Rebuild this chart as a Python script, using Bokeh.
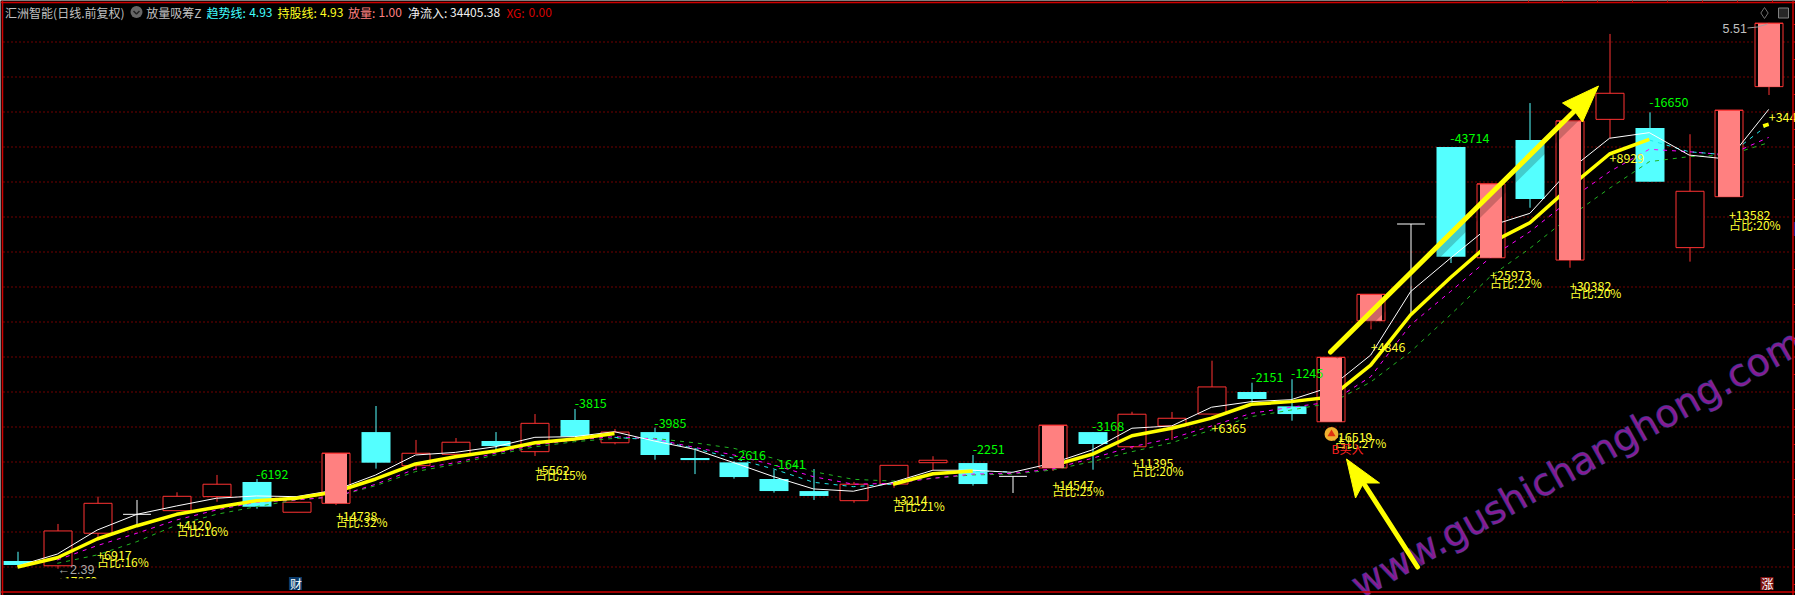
from bokeh.plotting import figure
from bokeh.embed import file_html
from bokeh.resources import INLINE
from bokeh.core.properties import value
from bokeh.models import Range1d, Span

# ---- candle data (price units)
OPEN  = [2.434,2.407,2.593,2.701,2.722,2.802,2.886,2.713,2.764,3.171,2.979,3.044,3.120,3.059,3.240,3.110,3.171,3.023,2.998,2.903,2.834,2.779,2.874,2.996,2.994,2.918,2.966,3.171,3.087,3.206,3.274,3.400,3.318,3.230,3.807,4.360,4.800,4.167,4.840,4.154,4.958,4.909,4.225,4.516,5.145]
CLOSE = [2.411,2.606,2.764,2.701,2.804,2.873,2.745,2.770,3.050,2.996,3.050,3.113,3.091,3.221,3.145,3.171,3.040,3.011,2.914,2.834,2.806,2.873,2.981,3.010,2.874,2.918,3.210,3.103,3.273,3.250,3.429,3.360,3.274,3.598,3.958,4.360,4.173,4.589,4.503,4.949,5.107,4.602,4.547,5.010,5.507]
HIGH  = [2.487,2.646,2.802,2.783,2.827,2.926,2.903,2.770,3.050,3.320,3.126,3.137,3.171,3.274,3.303,3.189,3.196,3.069,3.006,2.954,2.960,2.886,2.981,3.033,3.040,2.918,3.210,3.171,3.287,3.286,3.579,3.453,3.473,3.598,3.958,4.360,4.800,4.589,5.051,4.949,5.446,4.998,4.873,5.010,5.510]
LOW   = [2.411,2.390,2.560,2.646,2.722,2.773,2.733,2.713,2.754,2.962,2.954,3.044,3.059,3.034,3.145,3.101,3.013,2.931,2.905,2.825,2.783,2.767,2.853,2.954,2.865,2.823,2.949,2.956,3.074,3.126,3.274,3.337,3.236,3.230,3.758,3.840,4.137,4.167,4.453,4.110,4.851,4.602,4.145,4.516,5.097]
EMPHASIS = [8,26,33,34,37,39,43,44]   # pink filled up-days

nan = float("nan")
LINE_WHITE = [2.406,2.474,2.611,2.701,2.749,2.793,2.806,2.802,2.840,2.926,3.040,3.055,3.087,3.141,3.145,3.173,3.120,3.073,2.996,2.916,2.846,2.833,2.884,2.953,2.953,2.941,2.993,3.069,3.193,3.206,3.313,3.345,3.356,3.429,3.611,3.973,4.164,4.349,4.421,4.669,4.850,4.882,4.754,4.730,5.015]
LINE_YELLOW = [2.400,2.453,2.560,2.636,2.701,2.741,2.779,2.793,2.830,2.903,2.989,3.030,3.063,3.110,3.131,3.163,nan,nan,nan,nan,nan,nan,2.873,2.933,2.949,nan,2.979,3.044,3.150,3.193,3.251,3.330,3.345,3.371,3.554,3.840,4.053,4.251,4.367,4.571,4.760,4.844,nan,nan,nan]
LINE_CYAN = [nan]*15 + [3.141,3.126,3.078,3.021,2.960,2.884,2.859,2.874,2.933,2.949,2.943,nan] + [nan]*14 + [4.840,4.773,4.754,4.930]
LINE_MAGENTA = [nan,2.440,2.522,2.593,2.669,2.726,2.770,2.783,2.802,2.873,2.960,2.996,3.050,3.097,3.126,3.145,3.131,3.084,3.040,2.983,2.916,2.873,2.878,2.907,2.931,2.935,2.960,3.021,3.087,3.135,3.206,3.278,3.313,3.343,3.487,3.783,3.973,4.167,4.316,4.497,4.659,4.787,4.773,4.754,4.855]
LINE_GREEN = [nan,2.421,2.469,2.545,2.640,2.701,2.745,2.783,2.802,2.865,2.945,2.987,3.040,3.087,3.116,3.135,3.135,3.110,3.078,3.021,2.945,2.901,2.891,2.907,2.926,2.931,2.954,3.002,3.059,3.110,3.183,3.259,3.297,3.337,3.457,3.630,3.840,4.059,4.221,4.402,4.564,4.716,4.745,4.754,4.825]

# ---- value labels: candle index, price, text
GREEN_LABEL_I = [6,14,16,18,19,24,27,31,32,36,41]
GREEN_LABEL_Y = [2.933,3.337,3.225,3.040,2.987,3.074,3.207,3.487,3.509,4.850,5.055]
GREEN_LABEL_T = ["-6192","-3815","-3985","-2616","-1641","-2251","-3168","-2151","-1245","-43714","-16650"]
FLOW_LABEL_I = [2,4,8,13,22,26,28,30,33,34,37,39,40,43,44]
FLOW_LABEL_Y = [2.469,2.640,2.693,2.954,2.783,2.869,2.993,3.193,3.143,3.659,4.069,4.007,4.737,4.411,4.973]
FLOW_LABEL_T = ["+6917","+4120","+14738","+5562","+3214","+14547","+11395","+6365","+16519","+4846","+25973","+30382","+8929","+13582","+34405"]
SHARE_LABEL_I = [2,4,8,13,22,26,28,33.09,37,39,43]
SHARE_LABEL_Y = [2.434,2.611,2.659,2.926,2.754,2.840,2.954,3.109,4.023,3.966,4.360]
SHARE_LABEL_T = ["占比:16%","占比:16%","占比:32%","占比:15%","占比:21%","占比:25%","占比:20%","占比:27%","占比:22%","占比:20%","占比:20%"]
GRID_PRICES = [2.4,2.6,2.8,3.0,3.2,3.4,3.6,3.8,4.0,4.2,4.4,4.6,4.8,5.0,5.2,5.4]
MINOR_PRICES = [2.3,2.5,2.7,2.9,3.1,3.3,3.5,3.7,3.9,4.1,4.3,4.5,4.7,4.9,5.1,5.3,5.5]

HEADER = [("汇洲智能(日线.前复权)",4.6,"#c0c0c0"),("放量吸筹Z",145.8,"#c0c0c0"),("趋势线:",205.9,"#40ffff"),("4.93",248.7,"#40ffff"),
          ("持股线:",277,"#ffff20"),("4.93",319.5,"#ffff20"),("放量:",347.5,"#ff8080"),("1.00",378,"#ff8080"),
          ("净流入:",407.5,"#f0f0f0"),("34405.38",449.6,"#f0f0f0"),("XG:",505.9,"#d80000"),("0.00",528,"#d80000")]

# pixel <-> data helpers for page furniture (legend row, arrows, badges)
def sx(px): return (px-17)/39.8
def sy(py): return (987-py)/175
def snap(i): return sx(round(17+39.8*i)+0.5)   # candle slot centred on a device pixel

CJK = value("Noto Sans CJK SC")
p = figure(width=1795, height=595, output_backend="svg", toolbar_location=None,
           x_range=Range1d(sx(0), sx(1795)), y_range=Range1d(sy(595.5), sy(0.5)),
           background_fill_color="black", border_fill_color="black", min_border=0,
           outline_line_color=None)
p.xaxis.visible = False
p.yaxis.visible = False
p.xgrid.visible = False
p.ygrid.visible = False

GRID_RED = "#e00000"
p.segment([sx(3)]*len(GRID_PRICES), GRID_PRICES, [sx(1790)]*len(GRID_PRICES), GRID_PRICES,
          line_color=GRID_RED, line_dash="1 3", line_width=1)

RED, PINK, CYAN = "#ff3232", "#ff8080", "#54ffff"
n = len(OPEN)
doji = [i for i in range(n) if OPEN[i] == CLOSE[i]]
ups = [i for i in range(n) if CLOSE[i] > OPEN[i]]
downs = [i for i in range(n) if CLOSE[i] < OPEN[i]]

def col(arr, idx): return [arr[i] for i in idx]
def xs(idx): return [snap(i) for i in idx]

# wicks, hollow candles, cyan candles, then lines, then filled pink bodies
p.segment(xs(ups), col(HIGH,ups), xs(ups), col(LOW,ups), line_color=RED, line_width=1)
p.segment(xs(downs), col(HIGH,downs), xs(downs), col(LOW,downs), line_color=CYAN, line_width=1)
p.segment(xs(doji), col(HIGH,doji), xs(doji), col(LOW,doji), line_color="white", line_width=1)
p.segment([snap(i)-0.35 for i in doji], col(OPEN,doji), [snap(i)+0.35 for i in doji], col(OPEN,doji), line_color="white", line_width=1)
p.vbar(x=xs(ups), bottom=col(OPEN,ups), top=col(CLOSE,ups), width=28/39.8, fill_color="black", line_color=RED, line_width=1)
p.vbar(x=xs(downs), bottom=col(CLOSE,downs), top=col(OPEN,downs), width=29/39.8, fill_color=CYAN, line_color=None)

x = list(range(n))
p.line(x, LINE_GREEN, line_color="#22b422", line_width=1, line_dash="4 5")
p.line(x, LINE_MAGENTA, line_color="#ff00ff", line_width=1, line_dash="4 5")
p.line(x, LINE_CYAN, line_color="#20e8e8", line_width=1, line_dash="4 5")
p.line(x, LINE_WHITE, line_color="#ffffff", line_width=1)
p.line(x, LINE_YELLOW, line_color="#ffff00", line_width=3.5)
p.line([43.86, 44], [4.92, 4.93], line_color="#ffff00", line_width=3.5)

p.vbar(x=xs(EMPHASIS), bottom=col(OPEN,EMPHASIS), top=col(CLOSE,EMPHASIS), width=22/39.8, fill_color=PINK, line_color=None)
p.segment([snap(e)-14/39.8 for e in EMPHASIS], col(CLOSE,EMPHASIS), [snap(e)+14/39.8 for e in EMPHASIS], col(CLOSE,EMPHASIS), line_color=RED, line_width=1)

# watermark
p.text([sx(1354)], [sy(588)], text=["www.gushichanghong.com"], angle=29.2, angle_units="deg",
       text_font=value("DejaVu Sans"), text_font_size="38px", text_color="#8a1890",
       text_outline_color="rgba(64,80,176,0.55)", text_baseline="alphabetic", text_align="left")

# labels
p.text(GREEN_LABEL_I, GREEN_LABEL_Y, text=GREEN_LABEL_T, text_font=CJK, text_font_size="12.5px",
       text_color="#00ff00", text_baseline="middle", text_align="left")
p.text(FLOW_LABEL_I, FLOW_LABEL_Y, text=FLOW_LABEL_T, text_font=CJK, text_font_size="12.5px",
       text_color="#ffff30", text_baseline="middle", text_align="left")
p.text(SHARE_LABEL_I, SHARE_LABEL_Y, text=SHARE_LABEL_T, text_font=CJK, text_font_size="12px",
       text_color="#ffff30", text_baseline="middle", text_align="left")
p.text([sx(1331)], [sy(448)], text=["B买入"], text_font=CJK, text_font_size="12px", text_color="#ff2020", text_baseline="middle")
p.text([sx(57)], [sy(581)], text=["+17862"], text_font=CJK, text_font_size="12px", text_color="#ffff30", text_baseline="middle")
p.quad(left=[sx(40)], right=[sx(120)], bottom=[sy(590)], top=[sy(578.5)], fill_color="black", line_color=None)
p.text([sx(57)], [sy(570)], text=["←2.39"], text_font=value("Liberation Sans"), text_font_size="12.5px", text_color="#aaaaaa", text_baseline="middle")
p.text([sx(1722)], [sy(28)], text=["5.51"], text_font=value("Liberation Sans"), text_font_size="12.5px", text_color="#c0c0c0", text_baseline="middle")
p.line([sx(1747), sx(1757), sx(1767)], [sy(28), sy(27), sy(24)], line_color="#a0a0a0", line_width=1)

# signal icon
p.scatter([sx(1331)], [sy(434)], size=14, marker="circle", fill_color="#f0b030", line_color=None)
p.scatter([sx(1331)], [sy(434)], size=8, marker="triangle", fill_color="#e03010", line_color=None)

# header row
p.text([sx(h[1]) for h in HEADER], [sy(12)]*len(HEADER), text=[h[0] for h in HEADER], text_font=CJK,
       text_font_size="12px", text_color=[h[2] for h in HEADER], text_baseline="middle", text_align="left")
p.scatter([sx(136)], [sy(12)], size=12, marker="circle", fill_color="#666666", line_color=None)
p.line([sx(133), sx(136), sx(139)], [sy(11), sy(14), sy(11)], line_color="#222222", line_width=1.5)

# top-right icons
p.scatter([sx(1764)], [sy(13)], size=11, marker="diamond", fill_color=None, line_color="#707070")
p.quad(left=[sx(1778)], right=[sx(1788)], bottom=[sy(18)], top=[sy(8)], fill_color="#808080", line_color="#808080", fill_alpha=0.3)

# badges
for cx, bg, ch in [(295.4, "#0a3a6a", "财"), (1767, "#801010", "涨")]:
    p.quad(left=[sx(cx-7)], right=[sx(cx+6)], bottom=[sy(590)], top=[sy(577)], fill_color=bg, line_color=None)
    p.text([sx(cx)], [sy(583)], text=[ch], text_font=CJK, text_font_size="12px", text_color="white",
           text_align="center", text_baseline="middle")

# hand-drawn yellow arrows: (tail, tip, two barbs, notch) in page pixels
ARROW_UP = dict(tail=(1330,352), notch=(1574,111), tip=(1598,86), b1=(1562,103), b2=(1582,122))
ARROW_BUY = dict(tail=(1417,567), notch=(1363,483), tip=(1346,459), b1=(1379,483), b2=(1355,498))
for a in (ARROW_UP, ARROW_BUY):
    p.line([sx(a["tail"][0]+3), sx(a["notch"][0]+3)], [sy(a["tail"][1]+3), sy(a["notch"][1]+3)], line_color="black", line_alpha=0.2, line_width=11)
    p.line([sx(a["tail"][0]), sx(a["notch"][0])], [sy(a["tail"][1]), sy(a["notch"][1])], line_color="#ffff00", line_width=5, line_cap="round")
    pts = [a["b1"], a["tip"], a["b2"], a["notch"]]
    p.patch([sx(q[0]) for q in pts], [sy(q[1]) for q in pts], fill_color="#ffff00", line_color="#ffff00")

# frame: left and right rails, top and bottom lines, tick stubs on the right rail and along the top
for loc, dim in [(sy(2.5), "width"), (sy(592), "width"), (sx(2), "height"), (sx(1792.5), "height")]:
    p.add_layout(Span(location=loc, dimension=dim, line_color="#d00000", line_width=1.5))
ticks = GRID_PRICES + MINOR_PRICES
p.segment([sx(1793)]*len(ticks), ticks, [sx(1795)]*len(ticks), ticks, line_color="#d00000", line_width=1)
TOP_TICK_PX = [1528,1562,1597,1632,1667,1702,1737,1772]
p.segment([sx(t) for t in TOP_TICK_PX], [sy(0)]*len(TOP_TICK_PX), [sx(t) for t in TOP_TICK_PX], [sy(3)]*len(TOP_TICK_PX), line_color="#d00000", line_width=1)
p.quad(left=[sx(1793)], right=[sx(1795)], bottom=[sy(236)], top=[sy(222)], fill_color="#202090", line_color=None)

open("out.html", "w").write(file_html(p, INLINE))
